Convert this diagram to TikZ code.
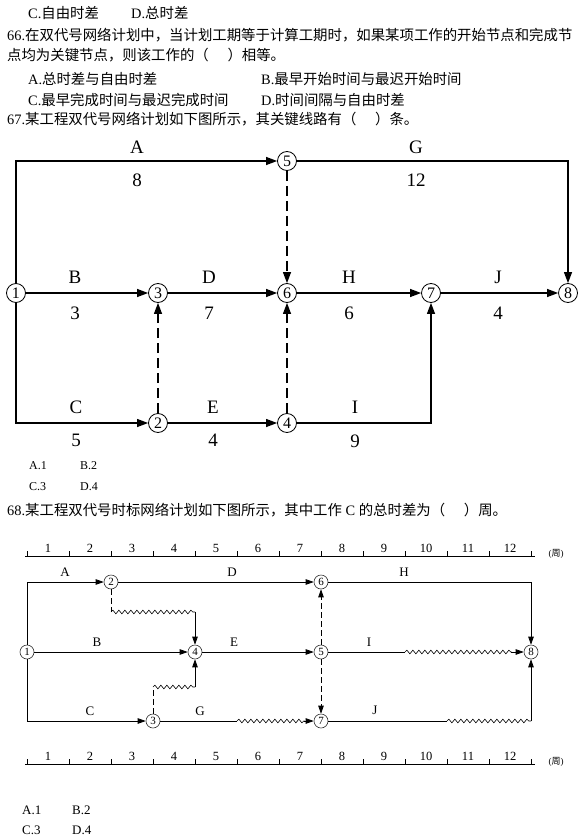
\documentclass[tikz,border=0pt]{standalone}
\usepackage{fontspec}
\setmainfont{Liberation Serif}
\newfontfamily\cjk{Noto Sans CJK SC}
\usetikzlibrary{arrows.meta,decorations.pathmorphing,calc}
\begin{document}
\begin{tikzpicture}[x=1pt,y=-1pt,
  txt/.style={anchor=west, inner sep=0, font=\fontsize{14.4}{16}\selectfont},
  optA/.style={anchor=west, inner sep=0, font=\fontsize{12}{13}\selectfont},
  optB/.style={anchor=west, inner sep=0, font=\fontsize{13}{15}\selectfont},
  nodeA/.style={circle, draw, fill=white, minimum size=19pt, inner sep=0, line width=0.8pt, font=\fontsize{16}{16}\selectfont},
  labA/.style={inner sep=0, font=\fontsize{19}{19}\selectfont},
  edgeA/.style={line width=1.1pt, -{Triangle[length=11pt,width=8pt]}},
  dashA/.style={line width=1.1pt, dash pattern=on 10pt off 5pt},
  nodeB/.style={circle, draw=black!80, fill=white, minimum size=14pt, inner sep=0, line width=0.6pt, font=\fontsize{11}{11}\selectfont},
  labB/.style={inner sep=0, font=\fontsize{13}{13}\selectfont},
  edgeB/.style={line width=0.7pt, -{Triangle[length=8pt,width=5.5pt]}},
  lineB/.style={line width=0.7pt},
  dashB/.style={line width=0.7pt, dash pattern=on 6pt off 3pt},
  wavy/.style={line width=0.6pt, decorate, decoration={snake, amplitude=1.8pt, segment length=6pt}},
  rulelab/.style={inner sep=0, font=\fontsize{12.5}{13}\selectfont}
]
\useasboundingbox (0,0) rectangle (580,840);

% ---------- text ----------
\node[txt] (t0a) at (28,13) {C.{\cjk 自由时差}};
\node[txt] (t0b) at (131,13) {D.{\cjk 总时差}};
\node[txt] (t1) at (7,35) {66.{\cjk 在双代号网络计划中，当计划工期等于计算工期时，如果某项工作的开始节点和完成节}};
\node[txt] (t2) at (7,55) {{\cjk 点均为关键节点，则该工作的（\hspace{1.3em}）相等。}};
\node[txt] (t3a) at (28,79) {A.{\cjk 总时差与自由时差}};
\node[txt] (t3b) at (261,79) {B.{\cjk 最早开始时间与最迟开始时间}};
\node[txt] (t4a) at (28,100) {C.{\cjk 最早完成时间与最迟完成时间}};
\node[txt] (t4b) at (261,100) {D.{\cjk 时间间隔与自由时差}};
\node[txt] (t5) at (7,119) {67.{\cjk 某工程双代号网络计划如下图所示，其关键线路有（\hspace{1.3em}）条。}};

% ---------- diagram 1 ----------
\node[nodeA] (n1) at (16,293) {1};
\node[nodeA] (n3) at (158,293) {3};
\node[nodeA] (n6) at (287,293) {6};
\node[nodeA] (n7) at (431,293) {7};
\node[nodeA] (n8) at (568,293) {8};
\node[nodeA] (n5) at (287,161) {5};
\node[nodeA] (n2) at (158,423) {2};
\node[nodeA] (n4) at (287,423) {4};

\draw[edgeA] (n1) |- (n5);
\draw[edgeA] (n5) -| (n8);
\draw[edgeA] (n1) -- (n3);
\draw[edgeA] (n3) -- (n6);
\draw[edgeA] (n6) -- (n7);
\draw[edgeA] (n7) -- (n8);
\draw[edgeA] (n1) |- (n2);
\draw[edgeA] (n2) -- (n4);
\draw[edgeA] (n4) -| (n7);
\draw[dashA] (n5) -- ($(n6.north)+(0,-10)$);
\draw[edgeA] ($(n6.north)+(0,-10.5)$) -- (n6.north);
\draw[dashA] (n2) -- ($(n3.south)+(0,10)$);
\draw[edgeA] ($(n3.south)+(0,10.5)$) -- (n3.south);
\draw[dashA] (n4) -- ($(n6.south)+(0,10)$);
\draw[edgeA] ($(n6.south)+(0,10.5)$) -- (n6.south);

\node[labA] (lA) at (137,147) {A};
\node[labA] (lA2) at (137,180) {8};
\node[labA] (lG) at (416,147) {G};
\node[labA] (lG2) at (416,180) {12};
\node[labA] (lB) at (75,277) {B};
\node[labA] (lB2) at (75,313) {3};
\node[labA] (lD) at (209,277) {D};
\node[labA] (lD2) at (209,313) {7};
\node[labA] (lH) at (349,277) {H};
\node[labA] (lH2) at (349,313) {6};
\node[labA] (lJ) at (498,277) {J};
\node[labA] (lJ2) at (498,313) {4};
\node[labA] (lC) at (76,407) {C};
\node[labA] (lC2) at (76,440) {5};
\node[labA] (lE) at (213,407) {E};
\node[labA] (lE2) at (213,440) {4};
\node[labA] (lI) at (355,407) {I};
\node[labA] (lI2) at (355,441) {9};

\node[optA] (o1a) at (29,466) {A.1};
\node[optA] (o1b) at (80,466) {B.2};
\node[optA] (o1c) at (29,487) {C.3};
\node[optA] (o1d) at (80,487) {D.4};

\node[txt] (t6) at (7,510) {68.{\cjk 某工程双代号时标网络计划如下图所示，其中工作} C {\cjk 的总时差为（\hspace{1.3em}）周。}};

% ---------- rulers ----------
\foreach \ry/\rn in {556/r, 764/s} {
  \draw[line width=0.7pt] (25,\ry) -- (535,\ry);
  \foreach \t in {0,...,12} {
    \draw[line width=0.7pt] ({27+42*\t},\ry) -- ({27+42*\t},\ry-5);
  }
  \foreach \t in {1,...,12} {
    \node[rulelab] (\rn\t) at ({27+42*\t-21},\ry-8) {\t};
  }
  \node[inner sep=0, font=\fontsize{9}{9}\selectfont] (\rn unit) at (556,\ry-2) {({\cjk 周})};
}

% ---------- diagram 2 ----------
\node[nodeB] (m1) at (27,652) {1};
\node[nodeB] (m2) at (111,582) {2};
\node[nodeB] (m3) at (153,721) {3};
\node[nodeB] (m4) at (195,652) {4};
\node[nodeB] (m5) at (321,652) {5};
\node[nodeB] (m6) at (321,582) {6};
\node[nodeB] (m7) at (321,721) {7};
\node[nodeB] (m8) at (531,652) {8};

\coordinate (gA) at (237,721);
\coordinate (iA) at (405,652);
\coordinate (jA) at (447,721);
\coordinate (jB) at (531,721);
\coordinate (d2a) at (111,612);
\coordinate (d2b) at (195,612);
\coordinate (d3a) at (153,687);
\coordinate (d3b) at (195,687);

\draw[edgeB] (m1) |- (m2);
\draw[edgeB] (m1) -- (m4);
\draw[edgeB] (m1) |- (m3);
\draw[edgeB] (m2) -- (m6);
\draw[edgeB] (m4) -- (m5);
\draw[edgeB] (m6) -| (m8);
\draw[lineB] (m3) -- (gA);
\draw[wavy] (gA) -- ($(m7.west)+(-9,0)$);
\draw[edgeB] ($(m7.west)+(-9.5,0)$) -- (m7);
\draw[lineB] (m5) -- (iA);
\draw[wavy] (iA) -- ($(m8.west)+(-12,0)$);
\draw[edgeB] ($(m8.west)+(-12.5,0)$) -- (m8);
\draw[lineB] (m7) -- (jA);
\draw[wavy] (jA) -- (jB);
\draw[edgeB] (jB) -- (m8);
\draw[dashB] (m2) -- (d2a);
\draw[wavy] (d2a) -- (d2b);
\draw[edgeB] (d2b) -- (m4);
\draw[dashB] (m3) -- (d3a);
\draw[wavy] (d3a) -- (d3b);
\draw[edgeB] (d3b) -- (m4);
\draw[dashB] (m5) -- ($(m6.south)+(0,9)$);
\draw[edgeB] ($(m6.south)+(0,9.5)$) -- (m6);
\draw[dashB] (m5) -- ($(m7.north)+(0,-9)$);
\draw[edgeB] ($(m7.north)+(0,-9.5)$) -- (m7);

\node[labB] (kA) at (65,572) {A};
\node[labB] (kD) at (232,572) {D};
\node[labB] (kH) at (404,572) {H};
\node[labB] (kB) at (97,642) {B};
\node[labB] (kE) at (234,642) {E};
\node[labB] (kI) at (369,642) {I};
\node[labB] (kC) at (90,711) {C};
\node[labB] (kG) at (200,711) {G};
\node[labB] (kJ) at (375,710) {J};

\node[optB] (o2a) at (22,810) {A.1};
\node[optB] (o2b) at (72,810) {B.2};
\node[optB] (o2c) at (22,830) {C.3};
\node[optB] (o2d) at (72,830) {D.4};
\end{tikzpicture}
\end{document}
